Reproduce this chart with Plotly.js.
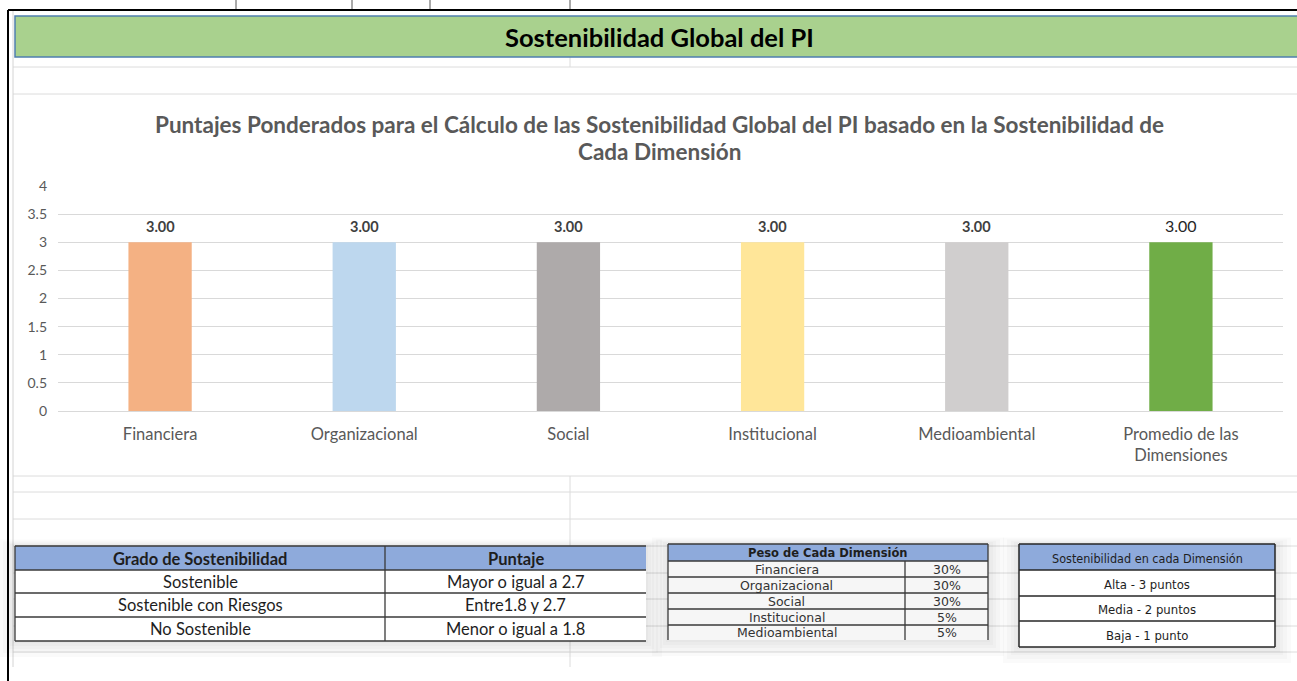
<!DOCTYPE html>
<html><head><meta charset="utf-8">
<script src="https://cdn.plot.ly/plotly-3.0.1.min.js"></script>
<style>html,body{margin:0;padding:0;background:#fff}#chart{width:1297px;height:681px}</style>
</head><body><div id="chart"></div>
<script>
// ---------- DATA ----------
const pageTitle = 'Sostenibilidad Global del PI';
const chartTitleLines = ['Puntajes Ponderados para el Cálculo de las Sostenibilidad Global del PI basado en la Sostenibilidad de', 'Cada Dimensión'];
const categories = ['Financiera', 'Organizacional', 'Social', 'Institucional', 'Medioambiental', 'Promedio de las<br>Dimensiones'];
const scores = [3.00, 3.00, 3.00, 3.00, 3.00, 3.00];
const barColors = ['#f4b183', '#bdd7ee', '#aeaaaa', '#ffe699', '#d0cece', '#70ad47'];
const yTicks = [0, 0.5, 1, 1.5, 2, 2.5, 3, 3.5, 4];
const yTickLabels = ['0', '0.5', '1', '1.5', '2', '2.5', '3', '3.5', '4'];

const gradoHeader = ['Grado de Sostenibilidad', 'Puntaje'];
const gradoNiveles = ['Sostenible', 'Sostenible con Riesgos', 'No Sostenible'];
const gradoPuntajes = ['Mayor o igual a 2.7', 'Entre1.8 y 2.7', 'Menor o igual a 1.8'];

const pesoTitulo = 'Peso de Cada Dimensión';
const pesoDimensiones = ['Financiera', 'Organizacional', 'Social', 'Institucional', 'Medioambiental'];
const pesoValores = ['30%', '30%', '30%', '5%', '5%'];

const escalaTitulo = 'Sostenibilidad en cada Dimensión';
const escalaNiveles = ['Alta - 3 puntos', 'Media - 2 puntos', 'Baja - 1 punto'];

// ---------- LAYOUT HELPERS ----------
const W = 1297, H = 681;
const px = x => x / W, py = y => 1 - y / H;
const shapes = [], annos = [];
function ln(x0, y0, x1, y1, color, width) {
  shapes.push({type: 'line', xref: 'paper', yref: 'paper', x0: px(x0), y0: py(y0), x1: px(x1), y1: py(y1), line: {color: color, width: width}});
}
function rc(x0, y0, x1, y1, fill, lc, lw) {
  shapes.push({type: 'rect', xref: 'paper', yref: 'paper', x0: px(x0), y0: py(y1), x1: px(x1), y1: py(y0), fillcolor: fill, line: {color: lc || fill, width: lw || 0}});
}
function shadow(x0, y0, x1, y1) {
  [16, 12, 8, 5, 2].forEach(d => rc(x0 - d, y0 - d * 0.4, x1 + d, y1 + d, 'rgba(0,0,0,0.018)'));
}
function tx(x, y, text, font, extra) {
  annos.push(Object.assign({xref: 'paper', yref: 'paper', x: px(x), y: py(y), text: text, showarrow: false, xanchor: 'center', yanchor: 'middle', font: font}, extra || {}));
}
const LATO = 'Lato, "Open Sans", sans-serif';
const GRID = '#dcdcdc';

// spreadsheet background
[67, 94, 476, 492, 519, 546, 573, 599, 626, 652].forEach(y => ln(13, y, W, y, GRID, 1));
ln(13, 10, 13, 667, '#d4d4d4', 1);
ln(570, 57, 570, 67, GRID, 1);
ln(570, 476, 570, 546, GRID, 1);
ln(570, 641, 570, 667, GRID, 1);
[236, 352, 430, 570].forEach(x => ln(x, 0, x, 10, '#555555', 1));
ln(8, 10, W, 10, '#000000', 2);
ln(8, 10, 8, H, '#000000', 2);

// page header band
rc(15, 16, W + 2, 57, '#a9d18e', '#4f7fae', 1.5);
tx(659, 37, '<b>' + pageTitle + '</b>', {family: LATO, size: 25.5, color: '#000000'});

// chart title
tx(660, 125, '<b>' + chartTitleLines[0] + '</b>', {family: LATO, size: 22.5, color: '#595959'});
tx(660, 152, '<b>' + chartTitleLines[1] + '</b>', {family: LATO, size: 22.5, color: '#595959'});

// ---------- TABLE 1 ----------
const T1 = {x0: 15, xm: 385, x1: 646, rows: [546, 570, 593, 617, 641]};
const DARK = '#3a3a3a';
shadow(T1.x0, T1.rows[0], T1.x1, T1.rows[4]);
rc(T1.x0, T1.rows[0], T1.x1, T1.rows[1], '#8eaadb');
rc(T1.x0, T1.rows[1], T1.x1, T1.rows[4], '#ffffff');
T1.rows.forEach(y => ln(T1.x0, y, T1.x1, y, DARK, 1.3));
ln(T1.x0, T1.rows[0], T1.x0, T1.rows[4], DARK, 1.3);
ln(T1.xm, T1.rows[0], T1.xm, T1.rows[4], DARK, 1.3);
const t1c1 = (T1.x0 + T1.xm) / 2, t1c2 = (T1.xm + T1.x1) / 2;
const t1Font = {family: LATO, size: 16.5, color: '#1e1e1e'};
tx(t1c1, (T1.rows[0] + T1.rows[1]) / 2 + 1, '<b>' + gradoHeader[0] + '</b>', t1Font);
tx(t1c2, (T1.rows[0] + T1.rows[1]) / 2 + 1, '<b>' + gradoHeader[1] + '</b>', t1Font);
gradoNiveles.forEach((v, i) => {
  const yc = (T1.rows[i + 1] + T1.rows[i + 2]) / 2;
  tx(t1c1, yc, v, t1Font);
  tx(t1c2, yc, gradoPuntajes[i], t1Font);
});

// ---------- TABLE 2 ----------
const T2 = {x0: 668, xm: 905, x1: 988, rows: [544, 561, 577, 593, 609, 625, 640]};
shadow(T2.x0, T2.rows[0], T2.x1, T2.rows[6]);
rc(T2.x0, T2.rows[0], T2.x1, T2.rows[1], '#8eaadb');
rc(T2.x0, T2.rows[1], T2.x1, T2.rows[6], '#f6f6f6');
T2.rows.slice(0, 6).forEach(y => ln(T2.x0, y, T2.x1, y, DARK, 1.3));
ln(T2.x0, T2.rows[0], T2.x0, T2.rows[6], DARK, 1.3);
ln(T2.x1, T2.rows[0], T2.x1, T2.rows[6], DARK, 1.3);
ln(T2.xm, T2.rows[1], T2.xm, T2.rows[6], DARK, 1.3);
const t2Head = {family: '"DejaVu Sans", Verdana, sans-serif', size: 11.5, color: '#1e1e1e'};
const t2Font = {family: '"DejaVu Sans", Verdana, sans-serif', size: 12.5, color: '#333333'};
tx((T2.x0 + T2.x1) / 2, (T2.rows[0] + T2.rows[1]) / 2, '<b>' + pesoTitulo + '</b>', t2Head);
pesoDimensiones.forEach((v, i) => {
  const yc = (T2.rows[i + 1] + T2.rows[i + 2]) / 2;
  tx((T2.x0 + T2.xm) / 2, yc, v, t2Font);
  tx((T2.xm + T2.x1) / 2, yc, pesoValores[i], t2Font);
});

// ---------- TABLE 3 ----------
const T3 = {x0: 1019, x1: 1275, rows: [544, 570, 596, 621, 647]};
shadow(T3.x0, T3.rows[0], T3.x1, T3.rows[4]);
rc(T3.x0, T3.rows[0], T3.x1, T3.rows[1], '#8eaadb');
rc(T3.x0, T3.rows[1], T3.x1, T3.rows[4], '#ffffff');
T3.rows.forEach(y => ln(T3.x0, y, T3.x1, y, '#262626', 1.5));
ln(T3.x0, T3.rows[0], T3.x0, T3.rows[4], '#262626', 1.5);
ln(T3.x1, T3.rows[0], T3.x1, T3.rows[4], '#262626', 1.5);
const t3Head = {family: '"Liberation Sans Narrow", "DejaVu Sans Condensed", sans-serif', size: 12.5, color: '#1e1e1e'};
const t3Font = {family: '"Liberation Sans Narrow", "DejaVu Sans Condensed", sans-serif', size: 13, color: '#1e1e1e'};
tx((T3.x0 + T3.x1) / 2, (T3.rows[0] + T3.rows[1]) / 2 + 1, escalaTitulo, t3Head);
escalaNiveles.forEach((v, i) => {
  tx((T3.x0 + T3.x1) / 2, (T3.rows[i + 1] + T3.rows[i + 2]) / 2 + 1, v, t3Font);
});

// ---------- BAR DATA LABELS ----------
categories.forEach((c, i) => {
  const last = i === categories.length - 1;
  annos.push({xref: 'x', yref: 'y', x: c, y: scores[i], text: last ? scores[i].toFixed(2) : '<b>' + scores[i].toFixed(2) + '</b>',
    showarrow: false, xanchor: 'center', yanchor: 'bottom', yshift: 5,
    font: {family: LATO, size: last ? 16 : 14.5, color: last ? '#262626' : '#404040'}});
});

const trace = {
  type: 'bar', x: categories, y: scores, width: 0.31,
  marker: {color: barColors, line: {width: 0}}, hoverinfo: 'skip'
};

const layout = {
  width: W, height: H, autosize: false,
  margin: {l: 0, r: 0, t: 0, b: 0},
  paper_bgcolor: '#ffffff', plot_bgcolor: 'rgba(0,0,0,0)',
  showlegend: false,
  xaxis: {domain: [px(58), px(1283)], type: 'category', showline: false, showgrid: false, zeroline: false,
    ticks: '', ticklabelstandoff: 11, tickfont: {family: LATO, size: 16.5, color: '#595959'}, fixedrange: true},
  yaxis: {domain: [py(411), py(186)], range: [0, 4], tickvals: yTicks, ticktext: yTickLabels,
    showline: false, showgrid: true, gridcolor: '#d9d9d9', gridwidth: 1, zeroline: true, zerolinecolor: '#d9d9d9', zerolinewidth: 1,
    ticks: '', ticklabelstandoff: 10, tickfont: {family: LATO, size: 14, color: '#595959'}, fixedrange: true},
  shapes: shapes,
  annotations: annos
};
Plotly.newPlot('chart', [trace], layout, {displayModeBar: false, staticPlot: true});
</script></body></html>
